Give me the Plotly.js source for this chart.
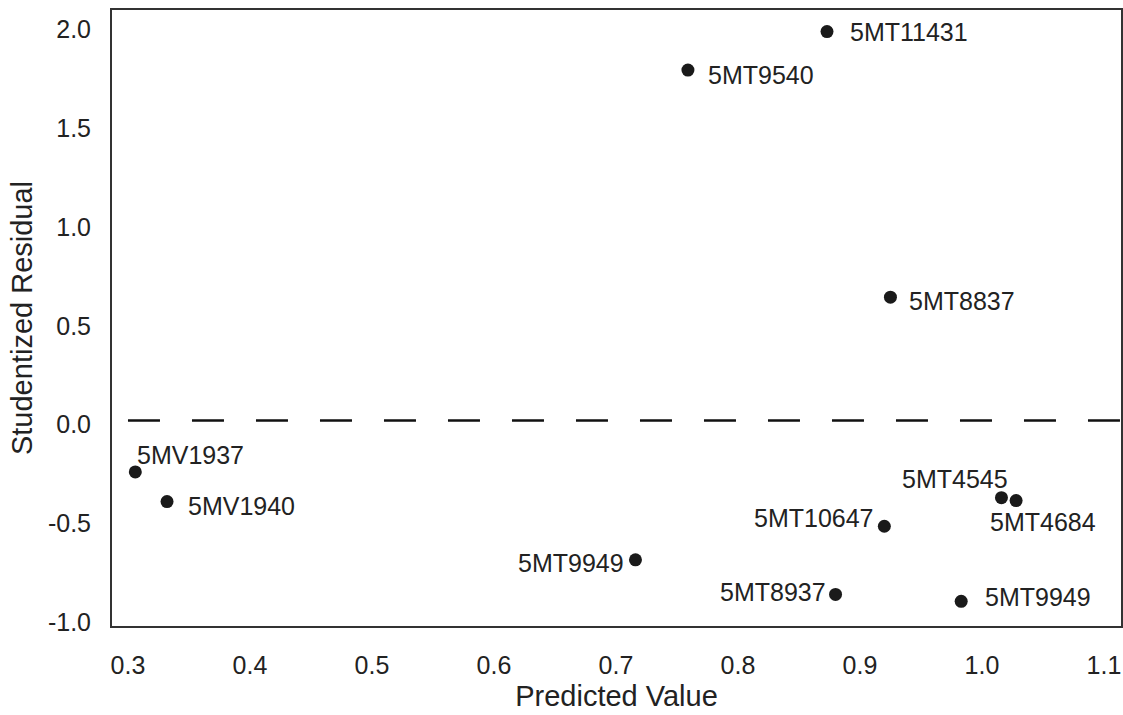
<!DOCTYPE html>
<html>
<head>
<meta charset="utf-8">
<script src="https://cdn.plot.ly/plotly-3.0.1.min.js"></script>
<style>html,body{margin:0;padding:0;background:#fff;}#chart{width:1123px;height:715px;}</style>
</head>
<body>
<div id="chart"></div>
<script>
// ---- data ----
var labels = ["5MT11431","5MT9540","5MT8837","5MV1937","5MV1940","5MT9949","5MT8937","5MT10647","5MT4545","5MT4684","5MT9949"];
var predicted = [0.873, 0.759, 0.925, 0.306, 0.332, 0.716, 0.880, 0.920, 1.016, 1.028, 0.983];
var residual  = [1.99, 1.795, 0.645, -0.24, -0.39, -0.685, -0.86, -0.515, -0.37, -0.385, -0.895];
var refX = [0.3, 1.114];
var refY = [0.02, 0.02];
var xTicks = [0.3, 0.4, 0.5, 0.6, 0.7, 0.8, 0.9, 1.0, 1.1];
var xTickText = ["0.3","0.4","0.5","0.6","0.7","0.8","0.9","1.0","1.1"];
var yTicks = [-1.0, -0.5, 0.0, 0.5, 1.0, 1.5, 2.0];
var yTickText = ["-1.0","-0.5","0.0","0.5","1.0","1.5","2.0"];

// ---- label placement (style only) ----
var labelStyle = [
  {xa:"left",  xs:21, ys:0},
  {xa:"left",  xs:18, ys:-5},
  {xa:"left",  xs:17, ys:-4},
  {xa:"left",  xs:0,  ys:17},
  {xa:"left",  xs:19, ys:-4},
  {xa:"right", xs:-9, ys:-3},
  {xa:"right", xs:-8, ys:2},
  {xa:"right", xs:-8, ys:8},
  {xa:"right", xs:9,  ys:19},
  {xa:"left",  xs:-28,ys:-21},
  {xa:"left",  xs:22, ys:4}
];

var FONT = "Liberation Sans, Arial, sans-serif";
var TXT = "#222222";

var annotations = labels.map(function(t, i){
  return {
    x: predicted[i], y: residual[i], xref:"x", yref:"y",
    text: t, showarrow:false,
    xanchor: labelStyle[i].xa, yanchor:"middle",
    xshift: labelStyle[i].xs, yshift: labelStyle[i].ys,
    font:{family:FONT, size:25, color:TXT}
  };
});

var traces = [
  {
    x: refX, y: refY, type:"scatter", mode:"lines",
    line:{color:"#111111", width:2.5, dash:"32px,32px"},
    hoverinfo:"skip", showlegend:false
  },
  {
    x: predicted, y: residual, type:"scatter", mode:"markers",
    marker:{size:13, color:"#1a1a1a"},
    text: labels, showlegend:false
  }
];

var layout = {
  width:1123, height:715,
  margin:{l:112, r:2, t:10, b:89},
  paper_bgcolor:"#ffffff", plot_bgcolor:"#ffffff",
  font:{family:FONT, color:TXT},
  showlegend:false,
  xaxis:{
    range:[0.2869, 1.114],
    tickvals:xTicks, ticktext:xTickText,
    showgrid:false, zeroline:false,
    showline:true, mirror:true, linecolor:"#333333", linewidth:2,
    ticks:"", ticklabelstandoff:16,
    tickfont:{family:FONT, size:25, color:TXT},
    title:{text:"Predicted Value", font:{family:FONT, size:29, color:TXT}, standoff:8}
  },
  yaxis:{
    range:[-1.02, 2.099],
    tickvals:yTicks, ticktext:yTickText,
    showgrid:false, zeroline:false,
    showline:true, mirror:true, linecolor:"#333333", linewidth:2,
    ticks:"", ticklabelstandoff:14,
    tickfont:{family:FONT, size:25, color:TXT},
    title:{text:"Studentized Residual", font:{family:FONT, size:29, color:TXT}, standoff:7}
  },
  annotations: annotations
};

Plotly.newPlot("chart", traces, layout, {displayModeBar:false, staticPlot:true});
</script>
</body>
</html>
